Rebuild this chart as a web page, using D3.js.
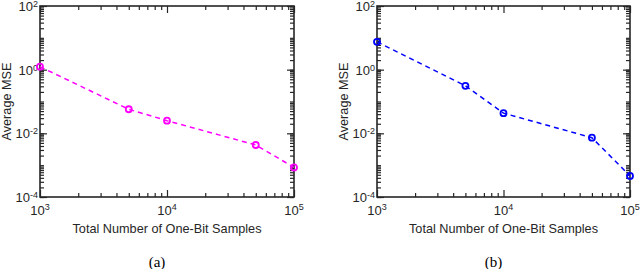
<!DOCTYPE html>
<html>
<head>
<meta charset="utf-8">
<script src="https://cdn.jsdelivr.net/npm/d3@7"></script>
<style>
  body { margin: 0; background: #fff; }
  svg text { font-family: "Liberation Sans", Arial, sans-serif; fill: #262626; }
</style>
</head>
<body>
<svg id="chart" width="640" height="269"></svg>
<script>
// data
const samples = [1000, 5000, 10000, 50000, 100000];
const mseA = [1.24, 0.057, 0.025, 0.0043, 0.00085];
const mseB = [7.5, 0.31, 0.043, 0.0073, 0.00046];
const xTickLabels = [3, 4, 5];          // exponents of 10
const yTickLabels = [2, 0, -2, -4];     // exponents of 10
const panels = [
  { id: "a", values: mseA, color: "#ff00ff", caption: "(a)" },
  { id: "b", values: mseB, color: "#0000ff", caption: "(b)" }
];

const svg = d3.select("#chart");
const plotTop = 6, plotBottom = 197;
const lefts = [40, 377], widths = [254, 253];

function minorTicks(lo, hi) {
  const out = [];
  for (let e = lo; e < hi; e++) {
    for (let m = 2; m <= 9; m++) out.push(m * Math.pow(10, e));
  }
  return out;
}

panels.forEach((p, i) => {
  const left = lefts[i], right = left + widths[i];
  const x = d3.scaleLog().domain([1e3, 1e5]).range([left, right]);
  const y = d3.scaleLog().domain([1e-4, 1e2]).range([plotBottom, plotTop]);
  const g = svg.append("g");

  const xMajor = [1e3, 1e4, 1e5];
  const yMajor = [1e-4, 1e-3, 1e-2, 1e-1, 1, 10, 100];
  const yMajorLong = [1e-4, 1e-2, 1, 100];

  // inside ticks on all four sides
  const tick = (sel) => sel.select(".domain").remove();
  g.append("g").attr("transform", `translate(0,${plotBottom})`)
    .call(d3.axisBottom(x).tickValues(xMajor).tickSize(-7).tickFormat("")).call(tick);
  g.append("g").attr("transform", `translate(0,${plotBottom})`)
    .call(d3.axisBottom(x).tickValues(minorTicks(3, 5)).tickSize(-4).tickFormat("")).call(tick);
  g.append("g").attr("transform", `translate(0,${plotTop})`)
    .call(d3.axisTop(x).tickValues(xMajor).tickSize(-7).tickFormat("")).call(tick);
  g.append("g").attr("transform", `translate(0,${plotTop})`)
    .call(d3.axisTop(x).tickValues(minorTicks(3, 5)).tickSize(-4).tickFormat("")).call(tick);

  g.append("g").attr("transform", `translate(${left},0)`)
    .call(d3.axisLeft(y).tickValues(yMajorLong).tickSize(-7).tickFormat("")).call(tick);
  g.append("g").attr("transform", `translate(${left},0)`)
    .call(d3.axisLeft(y).tickValues(yMajor.concat(minorTicks(-4, 2))).tickSize(-4).tickFormat("")).call(tick);
  g.append("g").attr("transform", `translate(${right},0)`)
    .call(d3.axisRight(y).tickValues(yMajorLong).tickSize(-7).tickFormat("")).call(tick);
  g.append("g").attr("transform", `translate(${right},0)`)
    .call(d3.axisRight(y).tickValues(yMajor.concat(minorTicks(-4, 2))).tickSize(-4).tickFormat("")).call(tick);

  g.selectAll(".tick line").attr("stroke", "#262626").attr("stroke-width", 1.2);

  // box
  g.append("rect")
    .attr("x", left).attr("y", plotTop)
    .attr("width", right - left).attr("height", plotBottom - plotTop)
    .attr("fill", "none").attr("stroke", "#262626").attr("stroke-width", 1.6);

  // x tick labels
  xTickLabels.forEach(e => {
    const t = g.append("text")
      .attr("x", x(Math.pow(10, e))).attr("y", 215)
      .attr("text-anchor", "middle").attr("font-size", 13);
    t.append("tspan").text("10");
    t.append("tspan").attr("dy", -5).attr("font-size", 9).text(e);
  });

  // y tick labels
  yTickLabels.forEach(e => {
    const t = g.append("text")
      .attr("x", left - 2).attr("y", y(Math.pow(10, e)) + 5)
      .attr("text-anchor", "end").attr("font-size", 13);
    t.append("tspan").text("10");
    t.append("tspan").attr("dy", -4).attr("font-size", 9).text(e);
  });

  // axis titles
  g.append("text")
    .attr("x", (left + right) / 2).attr("y", 233)
    .attr("text-anchor", "middle").attr("font-size", 12.7)
    .text("Total Number of One-Bit Samples");
  g.append("text")
    .attr("transform", `translate(${left - 29},${(plotTop + plotBottom) / 2}) rotate(-90)`)
    .attr("text-anchor", "middle").attr("font-size", 12.7)
    .text("Average MSE");

  // series
  const pts = samples.map((s, k) => ({ s, v: p.values[k] }));
  const line = d3.line().x(d => x(d.s)).y(d => y(d.v));
  g.append("path").datum(pts)
    .attr("d", line).attr("fill", "none")
    .attr("stroke", p.color).attr("stroke-width", 1.5)
    .attr("stroke-dasharray", "5,4");
  g.selectAll("circle.m").data(pts).enter().append("circle")
    .attr("class", "m")
    .attr("cx", d => x(d.s)).attr("cy", d => y(d.v))
    .attr("r", 3).attr("fill", "none")
    .attr("stroke", p.color).attr("stroke-width", 1.8);

  // caption
  g.append("text")
    .attr("x", (left + right) / 2 - 10).attr("y", 267)
    .attr("text-anchor", "middle").attr("font-size", 15)
    .style("font-family", "'Liberation Serif', 'Times New Roman', serif")
    .style("fill", "#000")
    .text(p.caption);
});
</script>
</body>
</html>
